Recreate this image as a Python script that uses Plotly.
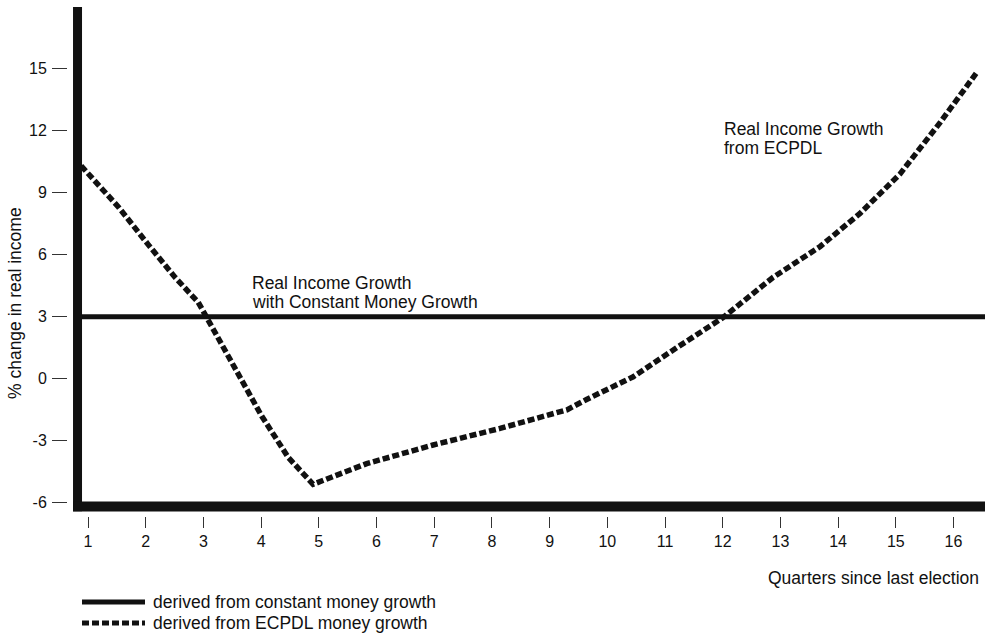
import plotly.graph_objects as go

# ---- data ----
quarters_ecpdl = [0.88, 1.53, 2.04, 2.51, 2.91, 3.11, 3.55, 4.01, 4.47, 4.90,
                  5.83, 6.98, 8.14, 9.30, 9.64, 10.45, 11.20, 12.00,
                  12.87, 13.69, 14.38, 15.07, 15.77, 16.40]
growth_ecpdl = [10.3, 8.3, 6.5, 4.9, 3.7, 2.7, 0.6, -1.8, -3.8, -5.1,
                -4.1, -3.2, -2.4, -1.5, -1.0, 0.1, 1.5, 2.95,
                4.9, 6.4, 8.0, 9.9, 12.4, 14.8]
quarters_const = [0.82, 16.55]
growth_const = [3, 3]

x_tick_vals = list(range(1, 17))
y_tick_vals = [-6, -3, 0, 3, 6, 9, 12, 15]
y_tick_text = ["-6", "-3", "0", "3", "6", "9", "12", "15"]

legend_labels = ["derived from constant money growth",
                 "derived from ECPDL money growth"]

# ---- layout geometry ----
W, H = 985, 635
ML, MR, MT, MB = 68, 0, 7, 119
PW, PH = W - ML - MR, H - MT - MB
X_RANGE = [0.653, 16.546]
Y_RANGE = [-6.634, 17.98]

FONT = "Liberation Sans, Arial, sans-serif"
INK = "#111111"
TXT = 17.5
DASH = "7px,3px"


def pxx(x):
    return (x - ML) / PW


def pxy(y):
    return (H - MB - y) / PH


fig = go.Figure()

fig.add_trace(go.Scatter(
    x=quarters_const, y=growth_const, mode="lines",
    name=legend_labels[0],
    line=dict(color=INK, width=5),
    hoverinfo="skip",
))
fig.add_trace(go.Scatter(
    x=quarters_ecpdl, y=growth_ecpdl, mode="lines",
    name=legend_labels[1],
    line=dict(color=INK, width=5.5, dash=DASH),
    hoverinfo="skip",
))

shapes = [
    # heavy left axis
    dict(type="line", xref="x", yref="y", x0=0.818, x1=0.818,
         y0=-6.4, y1=Y_RANGE[1], line=dict(color=INK, width=9)),
    # heavy bottom axis
    dict(type="line", xref="x", yref="y", x0=0.74, x1=X_RANGE[1],
         y0=-6.18, y1=-6.18, line=dict(color=INK, width=10)),
    # legend samples
    dict(type="line", xref="paper", yref="paper", x0=pxx(82), x1=pxx(145),
         y0=pxy(602), y1=pxy(602), line=dict(color=INK, width=5)),
    dict(type="line", xref="paper", yref="paper", x0=pxx(82), x1=pxx(145),
         y0=pxy(623), y1=pxy(623), line=dict(color=INK, width=5, dash=DASH)),
]


def text_at(x, y, s, xanchor="left", size=TXT):
    return dict(xref="paper", yref="paper", x=pxx(x), y=pxy(y), text=s,
                showarrow=False, xanchor=xanchor, yanchor="middle",
                font=dict(family=FONT, size=size, color=INK))


annotations = [
    text_at(250, 283, "Real Income Growth"),
    text_at(250, 302, "with Constant Money Growth"),
    text_at(722, 129, "Real Income Growth"),
    text_at(722, 148, "from ECPDL"),
    text_at(981, 578, "Quarters since last election", xanchor="right"),
    text_at(151, 602, legend_labels[0]),
    text_at(151, 623, legend_labels[1]),
    dict(xref="paper", yref="paper", x=pxx(15), y=pxy(303),
         text="% change in real income", showarrow=False,
         xanchor="center", yanchor="middle", textangle=-90,
         font=dict(family=FONT, size=TXT, color=INK)),
]

fig.update_layout(
    width=W, height=H,
    margin=dict(l=ML, r=MR, t=MT, b=MB, pad=0),
    paper_bgcolor="white", plot_bgcolor="white",
    showlegend=False,
    shapes=shapes,
    annotations=annotations,
    font=dict(family=FONT, color=INK),
)
fig.update_xaxes(
    range=X_RANGE, tickmode="array", tickvals=x_tick_vals,
    ticks="outside", ticklen=11, tickwidth=1, tickcolor="#333",
    showgrid=False, zeroline=False, showline=False,
    tickfont=dict(family=FONT, size=16, color=INK),
    ticklabelstandoff=0,
)
fig.update_yaxes(
    range=Y_RANGE, tickmode="array", tickvals=y_tick_vals, ticktext=y_tick_text,
    ticks="outside", ticklen=15, tickwidth=1, tickcolor="#333",
    showgrid=False, zeroline=False, showline=False,
    tickfont=dict(family=FONT, size=16, color=INK),
    ticklabelstandoff=2,
)

fig.write_html(
    "out.html",
    config={"displayModeBar": False},
    post_script="document.body.style.margin='0';document.body.style.overflow='hidden';",
)
